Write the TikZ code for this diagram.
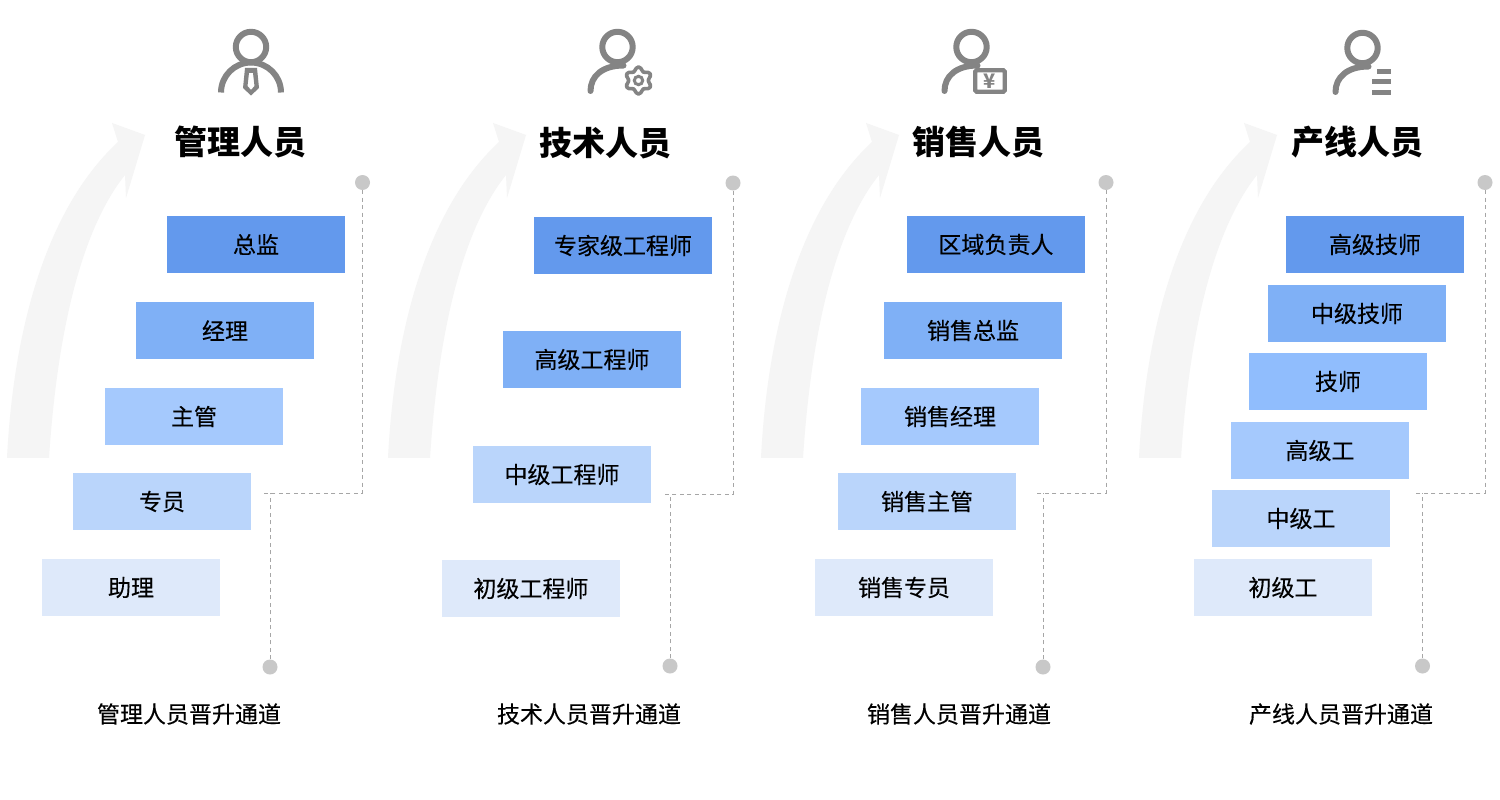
\documentclass[tikz,border=0pt]{standalone}
\usepackage{fontspec}
\setmainfont{Noto Sans CJK SC}
\newfontfamily\labelfont[FakeBold=0.25]{Noto Sans CJK SC}
\usetikzlibrary{fadings}
\definecolor{lvA}{HTML}{6399ED}
\definecolor{lvB}{HTML}{7FB0F6}
\definecolor{lvBC}{HTML}{90BDFD}
\definecolor{lvC}{HTML}{A5C9FD}
\definecolor{lvD}{HTML}{BAD5FB}
\definecolor{lvE}{HTML}{DEE9FA}
\definecolor{iconc}{HTML}{848484}
\definecolor{dotc}{HTML}{C8C8C8}
\definecolor{swoosh}{HTML}{F5F5F5}
% opaque over most of the height, dissolving only near the foot
\pgfdeclareverticalshading{riseshade}{100bp}{color(0bp)=(pgftransparent!100); color(4bp)=(pgftransparent!85); color(22bp)=(pgftransparent!0); color(100bp)=(pgftransparent!0)}
\pgfdeclarefading{risefade}{\pgfuseshading{riseshade}}
\tikzset{
  x=1pt, y=-1pt,
  rung/.style={minimum width=178pt, minimum height=57pt, inner sep=0pt, text=black, font=\labelfont\fontsize{23}{23}\selectfont},
  head/.style={inner sep=0pt, text=black, font=\fontsize{33}{33}\selectfont\bfseries},
  caption/.style={inner sep=0pt, text=black, font=\labelfont\fontsize{23}{23}\selectfont},
  pin/.style={circle, fill=dotc, minimum size=15pt, inner sep=0pt},
  track/.style={draw=black!35, line width=0.7pt, dash pattern=on 4pt off 3.5pt},
  iconline/.style={draw=iconc, line width=6pt, line cap=round},
}
% the pale rising arrow behind a column, shifted sideways by the argument
\newcommand{\risearrow}[1]{%
  \fill[swoosh, path fading=risefade, xshift=#1pt] (7,458) .. controls (14,320) and (50,205) .. (118,142)
    -- (112,123) -- (145,135) -- (126,198) -- (125,175)
    .. controls (85,225) and (58,320) .. (49,458) -- cycle;
}
% head ring and single shoulder shared by three of the icons
\newcommand{\bust}[2]{%
  \draw[iconline] (#1,#2) circle (15.2pt);
  \draw[iconline] (#1-27,#2+44) .. controls (#1-27,#2+29) and (#1-15,#2+18.5) .. (#1+6,#2+18.5);
}
\begin{document}
\begin{tikzpicture}
\useasboundingbox (0,0) rectangle (1500,800);
\fill[white] (0,0) rectangle (1500,800);

\risearrow{0}
\risearrow{381}
\risearrow{754}
\risearrow{1132}

% manager icon: head, shoulders and tie
\draw[iconline, line cap=butt] (251,47) circle (15.2pt);
\draw[iconline, line cap=butt] (221,92.5) arc[start angle=180, end angle=0, radius=30pt];
\fill[iconc, even odd rule] (245,68) -- (257,68) -- (259,88) -- (251,95.5) -- (243,88) -- cycle
  (249,73) -- (253,73) -- (254.5,86) -- (251,90) -- (247.5,86) -- cycle;

% engineer icon with a six-lobed cog
\bust{617.5}{47}
\draw[iconc, line width=3.6pt, line join=round] plot[smooth cycle, samples=36, domain=0:350]
  ({638.5+(11.6-1.9*cos(6*\x))*cos(\x)}, {80.5+(11.6-1.9*cos(6*\x))*sin(\x)});
\draw[iconc, line width=3pt] (638.5,80.5) circle (4.2pt);

% sales icon with a banknote
\bust{971.5}{47}
\draw[iconc, line width=4.2pt, rounded corners=1.5pt, fill=white] (975.2,70.2) rectangle (1004.8,91.8);
\node[inner sep=0pt, text=iconc, font=\fontsize{20}{20}\selectfont\bfseries] (yen) at (990,81) {¥};

% production icon with a three-line list
\bust{1362.5}{48}
\fill[iconc] (1377,69) rectangle (1391,74.3);
\fill[iconc] (1372,79) rectangle (1391,84.3);
\fill[iconc] (1372,90) rectangle (1391,95.3);

% column headings
\node[head] (h1) at (240,142) {管理人员};
\node[head] (h2) at (605,143) {技术人员};
\node[head] (h3) at (978,142) {销售人员};
\node[head] (h4) at (1357,142) {产线人员};

% first column
\node[rung, fill=lvA] (a1) at (256,244.5) {总监};
\node[rung, fill=lvB] (a2) at (225,330.5) {经理};
\node[rung, fill=lvC] (a3) at (194,416.5) {主管};
\node[rung, fill=lvD] (a4) at (162,501.5) {专员};
\node[rung, fill=lvE] (a5) at (131,587.5) {助理};

% second column
\node[rung, fill=lvA] (b1) at (623,245.5) {专家级工程师};
\node[rung, fill=lvB] (b2) at (592,359.5) {高级工程师};
\node[rung, fill=lvD] (b3) at (562,474.5) {中级工程师};
\node[rung, fill=lvE] (b4) at (531,588.5) {初级工程师};

% third column
\node[rung, fill=lvA] (c1) at (996,244.5) {区域负责人};
\node[rung, fill=lvB] (c2) at (973,330.5) {销售总监};
\node[rung, fill=lvC] (c3) at (950,416.5) {销售经理};
\node[rung, fill=lvD] (c4) at (927,501.5) {销售主管};
\node[rung, fill=lvE] (c5) at (904,587.5) {销售专员};

% fourth column
\node[rung, fill=lvA] (d1) at (1375,244.5) {高级技师};
\node[rung, fill=lvB] (d2) at (1357,313.5) {中级技师};
\node[rung, fill=lvBC] (d3) at (1338,381.5) {技师};
\node[rung, fill=lvC] (d4) at (1320,450.5) {高级工};
\node[rung, fill=lvD] (d5) at (1301,518.5) {中级工};
\node[rung, fill=lvE] (d6) at (1283,587.5) {初级工};

% stepped tracks
\node[pin] (t1) at (362.5,182.5) {};
\node[pin] (u1) at (270,667) {};
\coordinate (e1) at (264,493);
\draw[track] (t1) |- (e1);
\draw[track] (u1) -- (270,493);
\node[pin] (t2) at (733,183) {};
\node[pin] (u2) at (670,666) {};
\coordinate (e2) at (664,494);
\draw[track] (t2) |- (e2);
\draw[track] (u2) -- (670,494);
\node[pin] (t3) at (1106,182.5) {};
\node[pin] (u3) at (1043,667) {};
\coordinate (e3) at (1037,493);
\draw[track] (t3) |- (e3);
\draw[track] (u3) -- (1043,493);
\node[pin] (t4) at (1485,182.5) {};
\node[pin] (u4) at (1422.5,666) {};
\coordinate (e4) at (1416,493);
\draw[track] (t4) |- (e4);
\draw[track] (u4) -- (1422.5,493);

% captions
\node[caption] (k1) at (189,714) {管理人员晋升通道};
\node[caption] (k2) at (589,714) {技术人员晋升通道};
\node[caption] (k3) at (959,714) {销售人员晋升通道};
\node[caption] (k4) at (1341,714) {产线人员晋升通道};
\end{tikzpicture}
\end{document}
